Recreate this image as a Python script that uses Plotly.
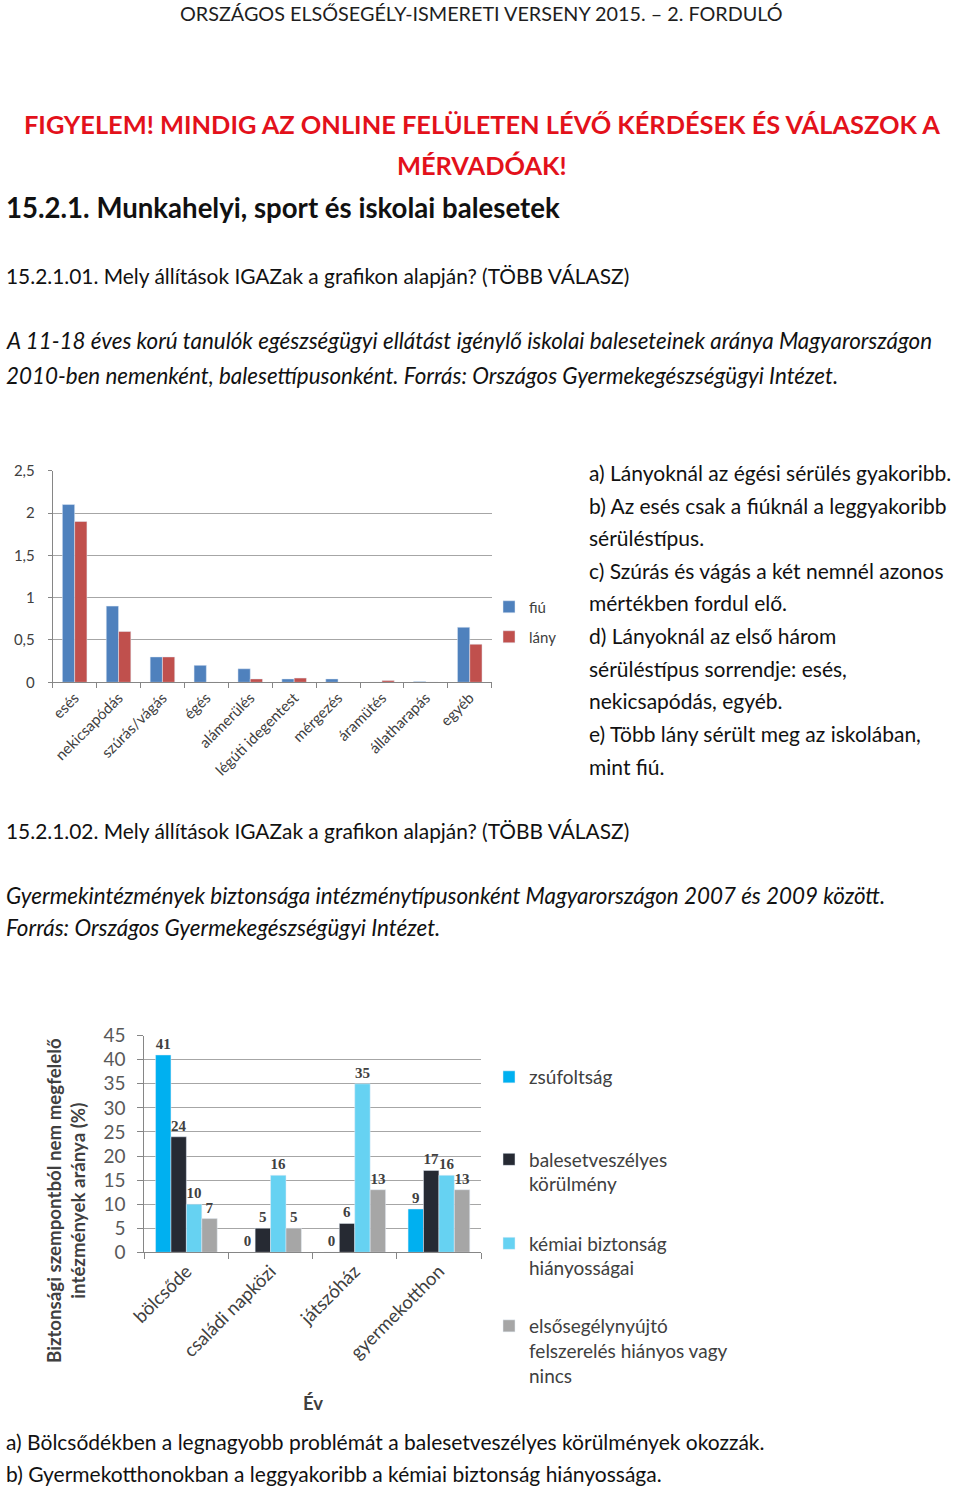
import plotly.graph_objects as go

W, H = 960, 1487
def px(x): return x / W
def py(y): return 1 - y / H

# ---------------- data ----------------
cat1 = ["esés", "nekicsapódás", "szúrás/vágás", "égés", "alámerülés",
        "légúti idegentest", "mérgezés", "áramütés", "állatharapás", "egyéb"]
fiu = [2.1, 0.9, 0.3, 0.2, 0.16, 0.04, 0.04, 0.0, 0.01, 0.65]
lany = [1.9, 0.6, 0.3, 0.0, 0.04, 0.05, 0.0, 0.02, 0.0, 0.45]
y1_tickvals = [0, 0.5, 1, 1.5, 2, 2.5]
y1_ticktext = ["0", "0,5", "1", "1,5", "2", "2,5"]

cat2 = ["bölcsőde", "családi napközi", "játszóház", "gyermekotthon"]
zsufoltsag = [41, 0, 0, 9]
balesetveszelyes = [24, 5, 6, 17]
kemiai = [10, 16, 35, 16]
elsosegely = [7, 5, 13, 13]
y2_tickvals = [0, 5, 10, 15, 20, 25, 30, 35, 40, 45]

FONT = "Lato"
TXT = "#111111"

fig = go.Figure()

# ---------------- chart 1 ----------------
fig.add_trace(go.Bar(x=cat1, y=fiu, name="fiú", marker_color="#4f81bd",
                     xaxis="x", yaxis="y", legend="legend"))
fig.add_trace(go.Bar(x=cat1, y=lany, name="lány", marker_color="#c0504d",
                     xaxis="x", yaxis="y", legend="legend2"))

# ---------------- chart 2 ----------------
lab_font = dict(family="Liberation Serif", size=15, color="#404040", weight="bold")
series2 = [
    ("zsúfoltság", zsufoltsag, "#00b0f0", "legend3"),
    ("balesetveszélyes<br>körülmény", balesetveszelyes, "#262a33", "legend4"),
    ("kémiai biztonság<br>hiányosságai", kemiai, "#66d2f2", "legend5"),
    ("elsősegélynyújtó<br>felszerelés hiányos vagy<br>nincs", elsosegely, "#a6a6a6", "legend6"),
]
w2 = (1 - 0.267) / 4
for i, (name, vals, col, lg) in enumerate(series2):
    fig.add_trace(go.Bar(x=cat2, y=vals, name=name, marker_color=col,
                         width=w2, offset=-2 * w2 + i * w2,
                         text=[str(v) for v in vals], textposition="outside",
                         textfont=lab_font, constraintext="none", cliponaxis=False,
                         xaxis="x2", yaxis="y2", legend=lg))

axis_gray = "#868686"
grid_gray = "#a6a6a6"

fig.update_layout(
    template="plotly",
    width=W, height=H, margin=dict(l=0, r=0, t=0, b=0, pad=0, autoexpand=False),
    paper_bgcolor="white", plot_bgcolor="white",
    font=dict(family=FONT, color="#404040"),
    barmode="group", bargap=0.44, bargroupgap=0,
    showlegend=True,
    xaxis=dict(domain=[px(52.7), px(491.7)], anchor="y", type="category", automargin=False,
               showline=True, linecolor=axis_gray, linewidth=1,
               ticks="outside", tickson="boundaries", ticklen=5, tickcolor=axis_gray,
               tickangle=-45, tickfont=dict(size=15, color="#404040"),
               showgrid=False),
    yaxis=dict(domain=[py(682.3), py(470.7)], anchor="x", range=[0, 2.5], automargin=False,
               tickvals=y1_tickvals, ticktext=y1_ticktext,
               showgrid=True, gridcolor=grid_gray, gridwidth=1,
               showline=True, linecolor=axis_gray, ticks="outside", ticklen=4,
               tickcolor=axis_gray, zeroline=False, ticklabelstandoff=10,
               tickfont=dict(size=15, color="#404040")),
    xaxis2=dict(domain=[px(144.3), px(481)], anchor="y2", type="category", automargin=False,
                showline=True, linecolor=axis_gray, linewidth=1,
                ticks="outside", tickson="boundaries", ticklen=6, tickcolor=axis_gray,
                tickangle=-45, tickfont=dict(size=18.5, color="#404040"),
                showgrid=False),
    yaxis2=dict(domain=[py(1252.3), py(1035.7)], anchor="x2", range=[0, 45], automargin=False,
                tickvals=y2_tickvals,
                showgrid=True, gridcolor=grid_gray, gridwidth=1,
                showline=True, linecolor=axis_gray, ticks="outside", ticklen=6,
                tickcolor=axis_gray, zeroline=False, ticklabelstandoff=8,
                tickfont=dict(size=19, color="#595959")),
)

leg_common = dict(bgcolor="rgba(0,0,0,0)", borderwidth=0, xanchor="left",
                  yanchor="middle", valign="top", itemclick=False)
fig.update_layout(
    legend=dict(x=px(489), y=py(607), font=dict(size=15, color="#404040"), **leg_common),
    legend2=dict(x=px(489), y=py(637), font=dict(size=15, color="#404040"), **leg_common),
    legend3=dict(x=px(489), y=py(1077), font=dict(size=19, color="#404040"), **leg_common),
    legend4=dict(x=px(489), y=py(1172), font=dict(size=19, color="#404040"), **leg_common),
    legend5=dict(x=px(489), y=py(1256), font=dict(size=19, color="#404040"), **leg_common),
    legend6=dict(x=px(489), y=py(1351), font=dict(size=19, color="#404040"), **leg_common),
)

# ---------------- page text ----------------
REG, ITA = 21.0, 22.4
texts = [
    # text, x, y, size, color, xanchor
    ("ORSZÁGOS ELSŐSEGÉLY-ISMERETI VERSENY 2015. – 2. FORDULÓ", 481, 13, 19.8, "#1e1e1e", "center"),
    ("<b>FIGYELEM! MINDIG AZ ONLINE FELÜLETEN LÉVŐ KÉRDÉSEK ÉS VÁLASZOK A</b>", 482, 124, 25.4, "#e3111b", "center"),
    ("<b>MÉRVADÓAK!</b>", 482, 165, 25.4, "#e3111b", "center"),
    ("<b>15.2.1. Munkahelyi, sport és iskolai balesetek</b>", 4, 207, 27.6, TXT, "left"),
    ("15.2.1.01. Mely állítások IGAZak a grafikon alapján? (TÖBB VÁLASZ)", 4, 276, 20.9, TXT, "left"),
    ("<i>A 11-18 éves korú tanulók egészségügyi ellátást igénylő iskolai baleseteinek aránya Magyarországon</i>", 4, 341, ITA, TXT, "left"),
    ("<i>2010-ben nemenként, balesettípusonként. Forrás: Országos Gyermekegészségügyi Intézet.</i>", 4, 375, ITA, TXT, "left"),
    ("15.2.1.02. Mely állítások IGAZak a grafikon alapján? (TÖBB VÁLASZ)", 4, 830, 20.9, TXT, "left"),
    ("<i>Gyermekintézmények biztonsága intézménytípusonként Magyarországon 2007 és 2009 között.</i>", 4, 895, ITA, TXT, "left"),
    ("<i>Forrás: Országos Gyermekegészségügyi Intézet.</i>", 4, 928, ITA, TXT, "left"),
    ("a) Bölcsődékben a legnagyobb problémát a balesetveszélyes körülmények okozzák.", 4, 1441, REG, TXT, "left"),
    ("b) Gyermekotthonokban a leggyakoribb a kémiai biztonság hiányossága.", 4, 1473, REG, TXT, "left"),
]
answers1 = ["a) Lányoknál az égési sérülés gyakoribb.",
            "b) Az esés csak a fiúknál a leggyakoribb",
            "sérüléstípus.",
            "c) Szúrás és vágás a két nemnél azonos",
            "mértékben fordul elő.",
            "d) Lányoknál az első három",
            "sérüléstípus sorrendje: esés,",
            "nekicsapódás, egyéb.",
            "e) Több lány sérült meg az iskolában,",
            "mint fiú."]
ans_y = [472, 505, 537, 570, 602, 635, 668, 700, 733, 766]
for t, yy in zip(answers1, ans_y):
    texts.append((t, 587, yy, REG, TXT, "left"))

annotations = []
for t, x, y, s, c, xa in texts:
    annotations.append(dict(text=t, x=px(x), y=py(y), xref="paper", yref="paper",
                            xanchor=xa, yanchor="middle", showarrow=False,
                            font=dict(family=FONT, size=s, color=c)))
# chart 2 axis titles
annotations.append(dict(text="<b>Biztonsági szempontból nem megfelelő<br>intézmények aránya (%)</b>",
                        x=px(66), y=py(1201), xref="paper", yref="paper",
                        textangle=-90, showarrow=False, xanchor="center", yanchor="middle",
                        font=dict(family=FONT, size=18.7, color="#404040")))
annotations.append(dict(text="<b>Év</b>", x=px(313), y=py(1403), xref="paper", yref="paper",
                        showarrow=False, xanchor="center", yanchor="middle",
                        font=dict(family=FONT, size=18.5, color="#404040")))
fig.update_layout(annotations=annotations)

fig.write_html("out.html", config={"displayModeBar": False},
               post_script="document.body.style.margin='0';document.body.style.overflow='hidden';")
